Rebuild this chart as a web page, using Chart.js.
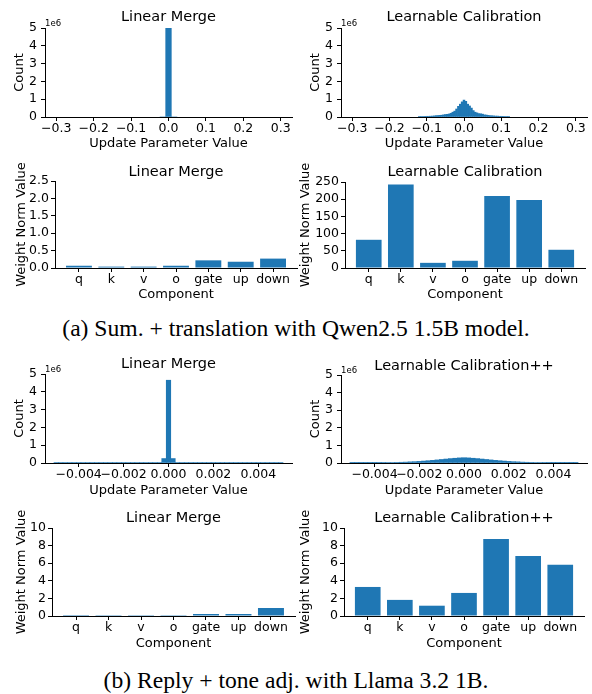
<!DOCTYPE html>
<html>
<head>
<meta charset="utf-8">
<script src="https://cdn.jsdelivr.net/npm/chart.js@4"></script>
<style>
body { margin: 0; background: #fff; }
#fig { position: relative; width: 592px; height: 694px; overflow: hidden; background: #fff; }
canvas { position: absolute; }
.cap { position: absolute; left: 0; width: 592px; text-align: center; font-family: "Liberation Serif", "Times New Roman", serif; font-size: 23.6px; line-height: 24px; color: #000; }
</style>
</head>
<body>
<div id="fig">
  <canvas id="c1"></canvas><canvas id="c2"></canvas>
  <canvas id="c3"></canvas><canvas id="c4"></canvas>
  <div class="cap" style="top:316px">(a) Sum. + translation with Qwen2.5 1.5B model.</div>
  <canvas id="c5"></canvas><canvas id="c6"></canvas>
  <canvas id="c7"></canvas><canvas id="c8"></canvas>
  <div class="cap" style="top:668px">(b) Reply + tone adj. with Llama 3.2 1B.</div>
</div>
<script>
// bar charts: weight norm per component
const components = ["q", "k", "v", "o", "gate", "up", "down"];
const qwenLinearNorms = [0.065, 0.04, 0.04, 0.065, 0.22, 0.18, 0.27];
const qwenCalibNorms = [82, 243, 15, 21, 209, 198, 53];
const llamaLinearNorms = [0.11, 0.1, 0.1, 0.1, 0.23, 0.23, 0.91];
const llamaCalibNorms = [3.3, 1.83, 1.17, 2.62, 8.76, 6.83, 5.82];

// histograms: counts in units of 1e6
const qwenTicks = [-0.3, -0.2, -0.1, 0, 0.1, 0.2, 0.3];
const llamaTicks = [-0.004, -0.002, 0, 0.002, 0.004];

const qwenLinearBins = [-0.015, 0, 0.015];
const qwenLinearCounts = [0, 5.0, 0];

// bins of 0.005 from -0.12 to 0.12
const qwenCalibCounts = [
  0.025, 0.03, 0.03, 0.035, 0.04, 0.04, 0.045, 0.05, 0.06, 0.075, 0.08, 0.09,
  0.1, 0.12, 0.14, 0.15, 0.17, 0.21, 0.27, 0.33, 0.45, 0.6, 0.72, 0.85,
  0.95,
  0.88, 0.72, 0.62, 0.5, 0.36, 0.27, 0.23, 0.19, 0.18, 0.16, 0.12, 0.11,
  0.09, 0.075, 0.07, 0.06, 0.05, 0.05, 0.04, 0.04, 0.035, 0.03, 0.03, 0.025
];

// bins of 0.0002 from -0.005 to 0.005
const llamaLinearCounts = [
  0.03, 0.03, 0.03, 0.03, 0.03, 0.03, 0.03, 0.03, 0.03, 0.03, 0.03, 0.03,
  0.03, 0.03, 0.03, 0.03, 0.03, 0.03, 0.03, 0.03, 0.03, 0.03, 0.03, 0.03,
  0.25, 4.65, 0.25,
  0.03, 0.03, 0.03, 0.03, 0.03, 0.03, 0.03, 0.03, 0.03, 0.03, 0.03, 0.03,
  0.03, 0.03, 0.03, 0.03, 0.03, 0.03, 0.03, 0.03, 0.03, 0.03, 0.03, 0.03
];
const llamaCalibCounts = [
  0.01, 0.01, 0.012, 0.014, 0.016, 0.018, 0.02, 0.023, 0.026, 0.03, 0.035, 0.042,
  0.05, 0.065, 0.075, 0.09, 0.11, 0.13, 0.15, 0.175, 0.2, 0.225, 0.25, 0.27,
  0.29, 0.3, 0.29,
  0.27, 0.25, 0.225, 0.2, 0.175, 0.15, 0.13, 0.11, 0.09, 0.075, 0.065, 0.05,
  0.042, 0.035, 0.03, 0.026, 0.023, 0.02, 0.018, 0.016, 0.014, 0.012, 0.01, 0.01
];

const FONT = "'DejaVu Sans', sans-serif";
const BLUE = "#1f77b4";

function binCenters(first, width, n) {
  const out = [];
  for (let i = 0; i < n; i++) out.push(+(first + i * width).toFixed(6));
  return out;
}

function fmtTick(v, d) {
  return (v < 0 ? "\u2212" : "") + Math.abs(v).toFixed(d);
}

// draws the subplot title and the 1e6 offset text
const panelText = {
  id: "panelText",
  afterDraw(chart, args, opts) {
    const { ctx, chartArea: a } = chart;
    ctx.save();
    ctx.fillStyle = "#000";
    ctx.textAlign = "center";
    ctx.textBaseline = "middle";
    ctx.font = "14.5px " + FONT;
    ctx.fillText(opts.title, (a.left + a.right) / 2, a.top - opts.gap);
    if (opts.offset) {
      ctx.font = "8.5px " + FONT;
      ctx.textAlign = "left";
      ctx.textBaseline = "alphabetic";
      ctx.fillText(opts.offset, a.left, a.top - 2);
    }
    ctx.restore();
  }
};

function makePanel(id, p) {
  const canvas = document.getElementById(id);
  const cLeft = p.half;
  const cTop = p.T - 26;
  const cW = p.half === 0 ? 300 : 296;
  const xH = p.xTitleY - p.B + 10;
  const cH = p.B - cTop + xH;
  canvas.width = cW; canvas.height = cH;
  canvas.style.width = cW + "px"; canvas.style.height = cH + "px";
  canvas.style.left = cLeft + "px"; canvas.style.top = cTop + "px";

  const tickFont = { family: FONT, size: 12.5 };
  const titleFont = { family: FONT, size: 13 };
  const axisGrid = { drawOnChartArea: false, drawTicks: true, tickLength: 4, color: "#000", offset: false };
  const axisBorder = { display: true, color: "#000", width: 1 };

  const xScale = {
    type: "linear",
    offset: false,
    min: p.hist ? p.xMin : -0.74,
    max: p.hist ? p.xMax : 6.74,
    grid: axisGrid,
    border: axisBorder,
    afterBuildTicks: s => {
      s.ticks = p.hist ? p.xTicks.map(v => ({ value: v })) : components.map((c, i) => ({ value: i }));
    },
    ticks: {
      font: tickFont, color: "#000", padding: 0,
      maxRotation: 0, minRotation: 0, autoSkip: false,
      callback: v => p.hist ? fmtTick(v, p.dec) : components[v]
    },
    title: {
      display: true, text: p.hist ? "Update Parameter Value" : "Component",
      font: titleFont, color: "#000", padding: { top: 0, bottom: 2.2 }
    },
    afterFit: s => { s.height = xH; }
  };

  const yScale = {
    type: "linear",
    min: 0,
    max: p.yMax,
    grid: axisGrid,
    border: axisBorder,
    ticks: {
      font: tickFont, color: "#000", padding: p.hist ? 4 : 2,
      stepSize: p.yStep, autoSkip: false,
      callback: v => p.yDec ? v.toFixed(p.yDec) : String(v)
    },
    title: {
      display: true, text: p.hist ? "Count" : "Weight Norm Value",
      font: titleFont, color: "#000", padding: { top: p.yTitleX - cLeft - 7.8, bottom: 0 }
    },
    afterFit: s => { s.width = p.L - cLeft; }
  };

  const xs = p.hist ? p.bins : components.map((c, i) => i);

  return new Chart(canvas, {
    type: "bar",
    data: {
      datasets: [{
        data: xs.map((x, i) => ({ x: x, y: p.values[i] })),
        backgroundColor: BLUE,
        borderWidth: 0,
        barPercentage: p.hist ? 1 : 0.8,
        categoryPercentage: 1
      }]
    },
    options: {
      responsive: false,
      animation: false,
      layout: { padding: { top: 26, left: 0, bottom: 0, right: cLeft + cW - p.R } },
      scales: { x: xScale, y: yScale },
      plugins: {
        legend: { display: false },
        tooltip: { enabled: false },
        panelText: { title: p.title, gap: p.T - p.titleY, offset: p.hist ? "1e6" : null }
      }
    },
    plugins: [panelText]
  });
}

// (a) Qwen2.5 1.5B
makePanel("c1", {
  half: 0, L: 45, R: 292, T: 28, B: 117, titleY: 17, xTitleY: 144, yTitleX: 20,
  hist: true, title: "Linear Merge", bins: qwenLinearBins, values: qwenLinearCounts,
  xMin: -0.33, xMax: 0.33, xTicks: qwenTicks, dec: 1, yMax: 5, yStep: 1
});
makePanel("c2", {
  half: 296, L: 341, R: 587, T: 28, B: 117, titleY: 17, xTitleY: 144, yTitleX: 316,
  hist: true, title: "Learnable Calibration", bins: binCenters(-0.12, 0.005, 49), values: qwenCalibCounts,
  xMin: -0.33, xMax: 0.33, xTicks: qwenTicks, dec: 1, yMax: 5, yStep: 1
});
makePanel("c3", {
  half: 0, L: 55, R: 297, T: 181, B: 268, titleY: 172, xTitleY: 295, yTitleX: 22,
  hist: false, title: "Linear Merge", values: qwenLinearNorms, yMax: 2.5, yStep: 0.5, yDec: 1
});
makePanel("c4", {
  half: 296, L: 345, R: 585, T: 182, B: 268, titleY: 172, xTitleY: 295, yTitleX: 306,
  hist: false, title: "Learnable Calibration", values: qwenCalibNorms, yMax: 250, yStep: 50
});

// (b) Llama 3.2 1B
makePanel("c5", {
  half: 0, L: 45, R: 292, T: 374, B: 463, titleY: 364, xTitleY: 491, yTitleX: 20,
  hist: true, title: "Linear Merge", bins: binCenters(-0.005, 0.0002, 51), values: llamaLinearCounts,
  xMin: -0.0055, xMax: 0.0055, xTicks: llamaTicks, dec: 3, yMax: 5, yStep: 1
});
makePanel("c6", {
  half: 296, L: 341, R: 587, T: 375, B: 463, titleY: 366, xTitleY: 491, yTitleX: 316,
  hist: true, title: "Learnable Calibration++", bins: binCenters(-0.005, 0.0002, 51), values: llamaCalibCounts,
  xMin: -0.0055, xMax: 0.0055, xTicks: llamaTicks, dec: 3, yMax: 5, yStep: 1
});
makePanel("c7", {
  half: 0, L: 52, R: 295, T: 528, B: 616, titleY: 518, xTitleY: 644, yTitleX: 22,
  hist: false, title: "Linear Merge", values: llamaLinearNorms, yMax: 10, yStep: 2
});
makePanel("c8", {
  half: 296, L: 344, R: 584, T: 528, B: 616, titleY: 518, xTitleY: 644, yTitleX: 306,
  hist: false, title: "Learnable Calibration++", values: llamaCalibNorms, yMax: 10, yStep: 2
});
</script>
</body>
</html>
